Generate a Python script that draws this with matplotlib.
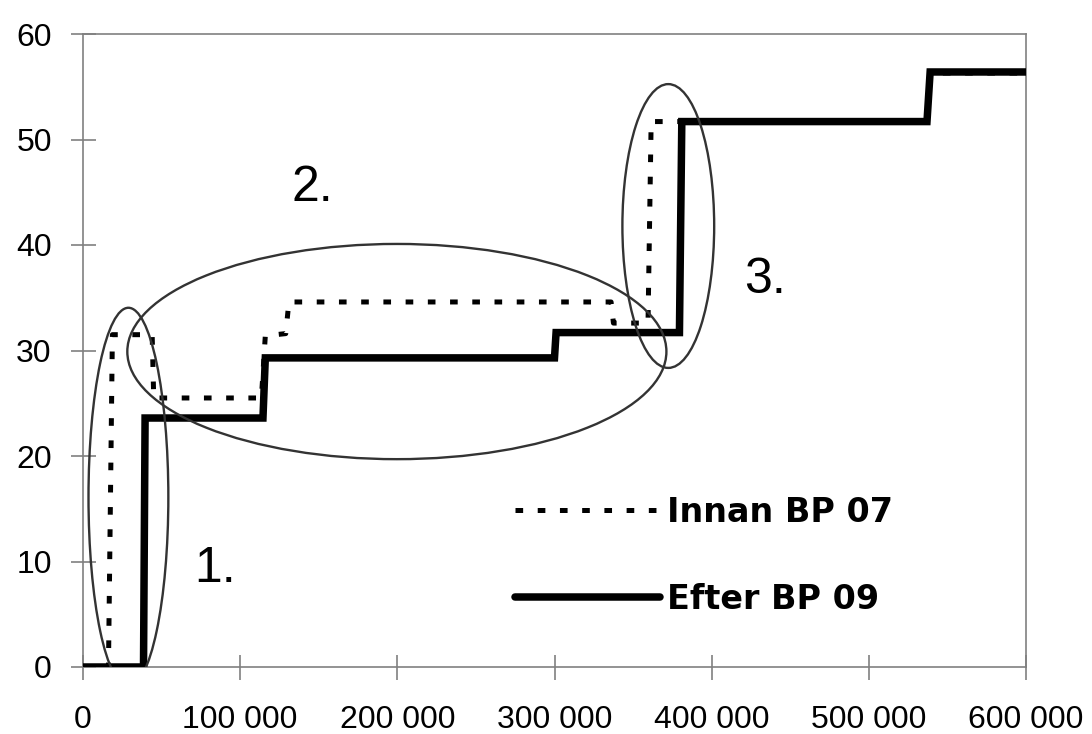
import matplotlib
matplotlib.use("Agg")
import matplotlib.pyplot as plt
from matplotlib.patches import Ellipse
from matplotlib.ticker import FuncFormatter

# ---- data ----
innan_x = [0, 16200, 18700, 44000, 45000, 113500, 116000, 129000, 131000,
           336000, 337500, 359500, 361500, 381000, 537000, 539000, 600000]
innan_y = [0, 0, 31.5, 31.5, 25.5, 25.5, 31.4, 31.6, 34.6,
           34.6, 32.6, 32.6, 51.7, 51.7, 51.7, 56.3, 56.3]

efter_x = [0, 38500, 39500, 114500, 116000, 300000, 301000,
           379500, 381000, 537000, 539000, 600000]
efter_y = [0, 0, 23.6, 23.6, 29.3, 29.3, 31.7,
           31.7, 51.7, 51.7, 56.4, 56.4]

series_labels = ["Innan BP 07", "Efter BP 09"]
x_ticks = [0, 100000, 200000, 300000, 400000, 500000, 600000]
y_ticks = [0, 10, 20, 30, 40, 50, 60]

# annotation ellipses: (center x, center y, width, height)
ellipses = [(28900, 16.1, 50800, 35.9),
            (199700, 29.9, 343000, 20.4),
            (372400, 41.8, 58400, 26.9)]
notes = [("1.", 84100, 8.06), ("2.", 145700, 44.2), ("3.", 433700, 35.45)]

plt.rcParams["lines.scale_dashes"] = False

fig = plt.figure(figsize=(10.92, 7.34), dpi=100)
ax = fig.add_axes([83 / 1092, 67 / 734, (1026 - 83) / 1092, (667 - 34) / 734])

ax.plot(innan_x, innan_y, color="black", lw=3.6, linestyle=(0, (5.5, 10.5)),
        dash_capstyle="butt", label=series_labels[0], zorder=3)
ax.plot(efter_x, efter_y, color="black", lw=5.4, solid_capstyle="round",
        solid_joinstyle="miter", label=series_labels[1], zorder=4)

for cx, cy, w, h in ellipses:
    ax.add_patch(Ellipse((cx, cy), w, h, fill=False, edgecolor="#333333",
                         lw=1.7, zorder=5))

for txt, tx, ty in notes:
    ax.text(tx, ty, txt, fontsize=36, family="Liberation Sans",
            ha="center", va="baseline", color="black", zorder=6)

ax.set_xlim(0, 600000)
ax.set_ylim(0, 60)
ax.set_xticks(x_ticks)
ax.set_yticks(y_ticks)


def fmt(v, pos):
    v = int(round(v))
    return f"{v:,}".replace(",", " ")


ax.xaxis.set_major_formatter(FuncFormatter(fmt))

for s in ax.spines.values():
    s.set_color("#808080")
    s.set_linewidth(1.2)

ax.tick_params(axis="both", direction="inout", length=18, width=1.2,
               color="#808080", labelsize=23, labelcolor="black")
ax.tick_params(axis="y", pad=13.5)
ax.tick_params(axis="x", pad=18.5)
for lab in ax.get_xticklabels() + ax.get_yticklabels():
    lab.set_family("Liberation Sans")

leg = ax.legend(loc="upper left", bbox_to_anchor=(515 / 1092, 1 - 496 / 734),
                bbox_transform=fig.transFigure, frameon=False,
                prop={"family": "DejaVu Sans", "weight": "bold", "size": 24},
                handlelength=4.35, handletextpad=0.2, labelspacing=1.62,
                borderpad=0, borderaxespad=0)

fig.savefig("out.png", dpi=100)
